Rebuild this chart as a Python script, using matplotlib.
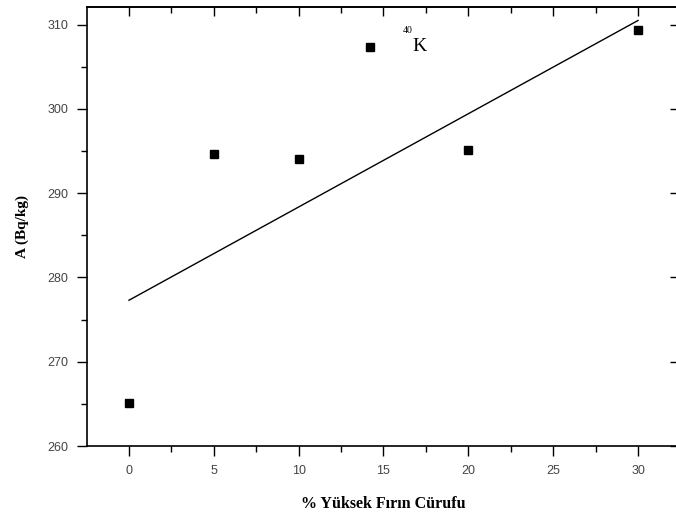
import matplotlib
matplotlib.use("Agg")
import matplotlib.pyplot as plt
from matplotlib.ticker import MultipleLocator

# data
slag_pct = [0, 5, 10, 14.2, 20, 30]
activity = [265.1, 294.6, 294.1, 307.35, 295.1, 309.4]

# fitted line end points
fit_x = [0, 30]
fit_y = [277.3, 310.5]

W, H = 676, 521
fig = plt.figure(figsize=(W / 100, H / 100), dpi=100, facecolor="white")
ax = fig.add_axes([87 / W, (H - 446) / H, (680 - 87) / W, (446 - 7) / H])

ax.plot(fit_x, fit_y, color="black", linewidth=1.0, zorder=2)
ax.plot(slag_pct, activity, linestyle="none", marker="s", markersize=6,
        color="black", zorder=3)

ax.set_xlim(-2.475, 32.475)
ax.set_ylim(260, 312.1)

ax.xaxis.set_major_locator(MultipleLocator(5))
ax.xaxis.set_minor_locator(MultipleLocator(2.5))
ax.yaxis.set_major_locator(MultipleLocator(10))
ax.yaxis.set_minor_locator(MultipleLocator(5))

ax.tick_params(which="major", direction="out", length=7.5, width=1.0,
               labelsize=9, labelcolor="#444444", pad=6)
ax.tick_params(which="minor", direction="out", length=4.5, width=1.0)
for lab in ax.get_xticklabels() + ax.get_yticklabels():
    lab.set_family("Liberation Sans")

for spine in ax.spines.values():
    spine.set_linewidth(1.2)

# top and right: inward ticks, no labels
top = ax.secondary_xaxis("top")
top.xaxis.set_major_locator(MultipleLocator(5))
top.xaxis.set_minor_locator(MultipleLocator(2.5))
top.tick_params(which="major", direction="in", length=6.5, width=1.0, labeltop=False)
top.tick_params(which="minor", direction="in", length=4, width=1.0)
top.spines["top"].set_linewidth(1.2)

right = ax.secondary_yaxis("right")
right.yaxis.set_major_locator(MultipleLocator(10))
right.yaxis.set_minor_locator(MultipleLocator(5))
right.tick_params(which="major", direction="in", length=7, width=1.0, labelright=False)
right.tick_params(which="minor", direction="in", length=0, width=1.0)

ax.set_xlabel("% Yüksek Fırın Cürufu", family="Liberation Serif",
              fontweight="bold", fontsize=11.5, labelpad=14)
ax.set_ylabel("A (Bq/kg)", family="Liberation Serif",
              fontweight="bold", fontsize=11, labelpad=13)

ax.text(16.4, 309.3, "40", family="Liberation Serif", fontsize=7,
        ha="center", va="center")
ax.text(17.1, 307.4, "K", family="Liberation Serif", fontsize=14,
        ha="center", va="center")

fig.savefig("out.png", dpi=100, facecolor="white")
